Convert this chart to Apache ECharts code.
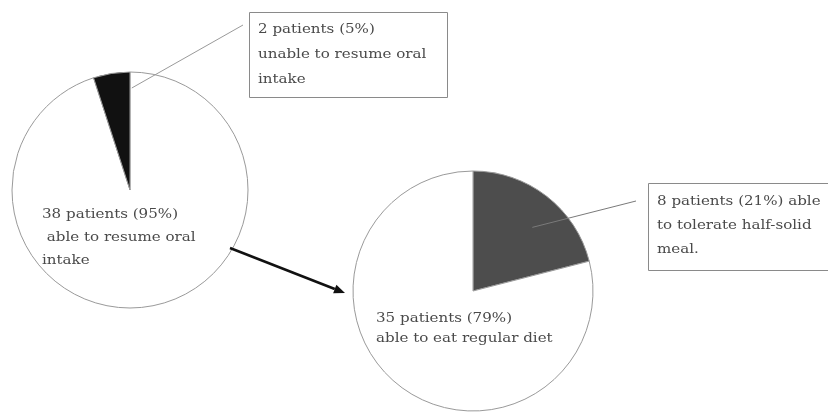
<!DOCTYPE html>
<html>
<head>
<meta charset="utf-8">
<script src="https://cdn.jsdelivr.net/npm/echarts@6/dist/echarts.min.js"></script>
<style>
  html, body { margin: 0; padding: 0; background: #fff; }
  #chart { width: 828px; height: 412px; }
</style>
</head>
<body>
<div id="chart"></div>
<script>
// Stage 1: all patients, whether oral intake could be resumed
// (slices run clockwise from 12 o'clock)
const stage1Names = ['able to resume oral intake', 'unable to resume oral intake'];
const stage1Counts = [38, 2];
const stage1Pct = [95, 5];

// Stage 2: patients who resumed oral intake, by diet tolerated
const stage2Names = ['able to tolerate half-solid meal', 'able to eat regular diet'];
const stage2Counts = [8, 35];
const stage2Pct = [21, 79];

const FONT = 'DejaVu Serif';
const TEXT_COLOR = '#4a4a4a';
const TEXT_SCALE_X = 1.16;

// Pie geometry
const A = { cx: 130, cy: 190, r: 118 };
const B = { cx: 473, cy: 291, r: 120 };

function polar(p, deg, rr) {
  const a = deg * Math.PI / 180;
  return [p.cx + rr * Math.cos(a), p.cy - rr * Math.sin(a)];
}

const chart = echarts.init(document.getElementById('chart'), null, { renderer: 'canvas' });

function pieSeries(p, names, pct, colors) {
  return {
    type: 'pie',
    center: [p.cx, p.cy],
    radius: [0, p.r],
    startAngle: 90,
    clockwise: true,
    silent: true,
    animation: false,
    label: { show: false },
    labelLine: { show: false },
    itemStyle: { borderColor: '#9a9a9a', borderWidth: 1 },
    data: names.map((n, i) => ({
      name: n,
      value: pct[i],
      itemStyle: { color: colors[i] }
    }))
  };
}

function label(x, y, text, lineHeight) {
  return {
    type: 'text', x: x, y: y, z: 10, scaleX: TEXT_SCALE_X,
    style: {
      text: text,
      fontFamily: FONT,
      fontSize: 13,
      fill: TEXT_COLOR,
      lineHeight: lineHeight
    }
  };
}

// leader line from the small black wedge to its box
const wedgeA = polar(A, 89, 102);
// leader line from the grey wedge to its box
const wedgeB = polar(B, 47, 87);

// arrow from the first pie to the second
const arrowFrom = [230, 248];
const arrowTo = [345, 293];
const dx = arrowTo[0] - arrowFrom[0], dy = arrowTo[1] - arrowFrom[1];
const len = Math.hypot(dx, dy);
const ux = dx / len, uy = dy / len;
const headL = 11, headW = 4.5;
const base = [arrowTo[0] - ux * headL, arrowTo[1] - uy * headL];

const option = {
  backgroundColor: '#fff',
  animation: false,
  series: [
    pieSeries(A, stage1Names, stage1Pct, ['#ffffff', '#111111']),
    pieSeries(B, stage2Names, stage2Pct, ['#4d4d4d', '#ffffff'])
  ],
  graphic: [
    // label inside the first pie
    label(42, 203,
      stage1Counts[0] + ' patients (' + stage1Pct[0] + '%)\n able to resume oral\nintake', 23),
    // label inside the second pie
    label(376, 309,
      stage2Counts[1] + ' patients (' + stage2Pct[1] + '%)\nable to eat regular diet', 20),
    // box for the unable group
    {
      type: 'rect', z: 5,
      shape: { x: 249.5, y: 12.5, width: 198, height: 85 },
      style: { fill: '#fff', stroke: '#8a8a8a', lineWidth: 1 }
    },
    label(258, 17,
      stage1Counts[1] + ' patients (' + stage1Pct[1] + '%)\nunable to resume oral\nintake', 25),
    {
      type: 'line', z: 6,
      shape: { x1: wedgeA[0], y1: wedgeA[1], x2: 243, y2: 25 },
      style: { stroke: '#9a9a9a', lineWidth: 1 }
    },
    // box for the half-solid group
    {
      type: 'rect', z: 5,
      shape: { x: 648.5, y: 183.5, width: 190, height: 87 },
      style: { fill: '#fff', stroke: '#8a8a8a', lineWidth: 1 }
    },
    label(657, 190,
      stage2Counts[0] + ' patients (' + stage2Pct[0] + '%) able\nto tolerate half-solid\nmeal.', 24),
    {
      type: 'line', z: 6,
      shape: { x1: wedgeB[0], y1: wedgeB[1], x2: 636, y2: 201 },
      style: { stroke: '#7a7a7a', lineWidth: 1 }
    },
    // arrow
    {
      type: 'line', z: 6,
      shape: { x1: arrowFrom[0], y1: arrowFrom[1], x2: base[0], y2: base[1] },
      style: { stroke: '#111', lineWidth: 2.5 }
    },
    {
      type: 'polygon', z: 6,
      shape: {
        points: [
          arrowTo,
          [base[0] - uy * headW, base[1] + ux * headW],
          [base[0] + uy * headW, base[1] - ux * headW]
        ]
      },
      style: { fill: '#111' }
    }
  ]
};

chart.setOption(option);
</script>
</body>
</html>
